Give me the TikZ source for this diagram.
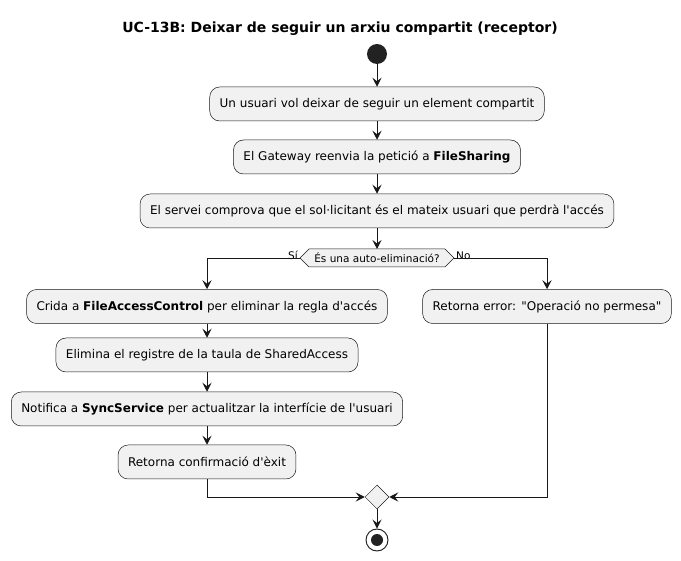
\documentclass[tikz,border=0pt]{standalone}
\usepackage{fontspec}
\setmainfont{DejaVu Sans}
\usetikzlibrary{arrows.meta,shapes.geometric}
\definecolor{boxfill}{HTML}{F1F1F1}
\definecolor{linec}{HTML}{181818}
\definecolor{startc}{HTML}{222222}
\begin{document}
\begin{tikzpicture}[x=1pt,y=-1pt,
  act/.style={draw=linec,fill=boxfill,rounded corners=10pt,line width=0.5pt,
    minimum height=34pt,inner xsep=10pt,font=\fontsize{12}{14}\selectfont,anchor=center},
  arr/.style={draw=linec,line width=0.9pt,-{Stealth[length=9pt,width=9pt,inset=3.5pt]}},
  lbl/.style={font=\fontsize{10.5}{12}\selectfont,inner sep=1pt}]
\useasboundingbox (0,0) rectangle (681,561);
\node[font=\bfseries\fontsize{14}{16}\selectfont] (title) at (340,29) {UC-13B: Deixar de seguir un arxiu compartit (receptor)};
\node[circle,fill=startc,minimum size=20pt,inner sep=0] (start) at (377,54) {};
\node[act] (b1) at (377,104) {Un usuari vol deixar de seguir un element compartit};
\node[act] (b2) at (377,157) {El Gateway reenvia la petició a \textbf{FileSharing}};
\node[act] (b3) at (377,211) {El servei comprova que el sol·licitant és el mateix usuari que perdrà l\textquotesingle accés};
% decision
\coordinate (decT) at (377,249);
\coordinate (decL) at (300,258);
\coordinate (decR) at (454,258);
\draw[draw=linec,fill=boxfill,line width=0.5pt] (decL) -- (309,249) -- (445,249) -- (decR) -- (445,267) -- (309,267) -- cycle;
\node[font=\fontsize{10.5}{12}\selectfont] (dec) at (377,258) {És una auto-eliminació?};
\node[lbl,anchor=south east] (si) at (299,261) {Sí};
\node[lbl,anchor=south west] (no) at (455,261) {No};
\node[act] (a1) at (207,306.5) {Crida a \textbf{FileAccessControl} per eliminar la regla d\textquotesingle accés};
\node[act] (a2) at (207,355) {Elimina el registre de la taula de SharedAccess};
\node[act] (a3) at (207,409) {Notifica a \textbf{SyncService} per actualitzar la interfície de l\textquotesingle usuari};
\node[act] (a4) at (207,462) {Retorna confirmació d\textquotesingle èxit};
\node[act] (r1) at (547,306.5) {Retorna error: \textquotedbl Operació no permesa\textquotedbl};
\node[diamond,draw=linec,fill=boxfill,line width=0.5pt,minimum size=24pt,inner sep=0] (merge) at (377,497) {};
\node[circle,draw=linec,fill=white,line width=0.9pt,minimum size=22pt,inner sep=0] (stop) at (377,540) {};
\node[circle,fill=startc,minimum size=12pt,inner sep=0] (stopin) at (377,540) {};
% connectors
\draw[arr] (start) -- (b1);
\draw[arr] (b1) -- (b2);
\draw[arr] (b2) -- (b3);
\draw[arr] (b3) -- (decT);
\draw[arr] (decL) -| (a1.north);
\draw[arr] (decR) -| (r1.north);
\draw[arr] (a1) -- (a2);
\draw[arr] (a2) -- (a3);
\draw[arr] (a3) -- (a4);
\draw[arr] (a4.south) |- (merge.west);
\draw[arr] (r1.south) |- (merge.east);
\draw[arr] (merge) -- (stop);
\end{tikzpicture}
\end{document}
